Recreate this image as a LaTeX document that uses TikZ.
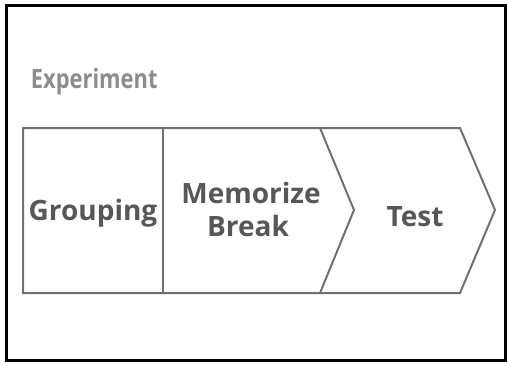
\documentclass[tikz,border=0pt]{standalone}
\usepackage{fontspec}
\setmainfont{Open Sans}
\newfontfamily\titlefont[FakeStretch=0.82]{Open Sans}
\definecolor{stepline}{HTML}{707070}
\definecolor{steptext}{HTML}{575757}
\definecolor{titlegray}{HTML}{8C8C8C}
\begin{document}
\begin{tikzpicture}[x=0.75pt,y=-0.75pt,line width=1.5pt,
    steplabel/.style={text=steptext,font=\bfseries\fontsize{21}{25}\selectfont,anchor=base,inner sep=0pt}]
  \useasboundingbox (0,0) rectangle (508,365);
  % outer frame
  \draw[line width=2.25pt] (6,5) rectangle (505,360);
  % heading
  \node[text=titlegray,font=\titlefont\bfseries\fontsize{20}{24}\selectfont,anchor=base west,inner sep=0pt]
    (title) at (30,88) {Experiment};
  % first block with the square part and the first chevron
  \draw[stepline,line join=miter] (23,128) -- (320,128) -- (354,210) -- (320,293) -- (23,293) -- cycle;
  \draw[stepline] (163,128) -- (163,293);
  % second chevron
  \draw[stepline,line join=miter] (320,128) -- (460,128) -- (495,210) -- (460,293) -- (320,293);
  % labels
  \node[steplabel] (grouping) at (93,220) {Grouping};
  \node[steplabel] (memorize) at (251,203) {Memorize};
  \node[steplabel] (break) at (248,236) {Break};
  \node[steplabel] (test) at (415,226) {Test};
\end{tikzpicture}
\end{document}
